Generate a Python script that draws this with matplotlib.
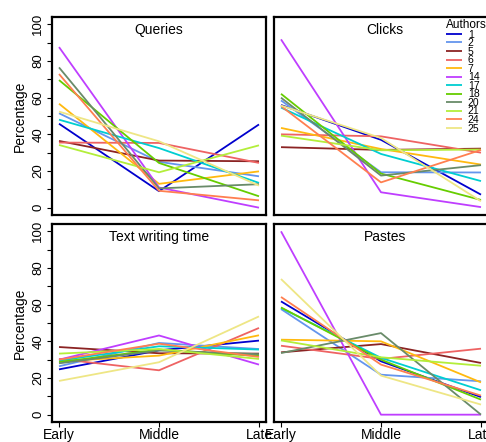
import matplotlib
matplotlib.use("Agg")
import matplotlib.pyplot as plt
from matplotlib.ticker import MultipleLocator

plt.rcParams['font.family'] = ['Liberation Sans', 'DejaVu Sans']

phases = ["Early", "Middle", "Late"]
authors = ["1", "2", "5", "6", "7", "14", "17", "18", "20", "21", "24", "25"]
colors = ["#0000CD", "#6495ED", "#8B2323", "#EE6363", "#FFB90F", "#BF3EFF",
          "#00CED1", "#66CD00", "#698B69", "#B3EE3A", "#FF7F50", "#EEE685"]

queries = [
    [45.8, 9.0, 45.4],   # 1
    [51.5, 25.0, 17.1],  # 2
    [36.4, 25.7, 25.3],  # 5
    [35.5, 35.3, 24.4],  # 6
    [56.7, 13.0, 19.8],  # 7
    [87.6, 11.0, 0.0],   # 14
    [48.0, 32.5, 13.5],  # 17
    [69.6, 24.4, 6.2],   # 18
    [76.5, 10.5, 12.8],  # 20
    [34.2, 19.3, 34.0],  # 21
    [72.9, 9.2, 4.0],    # 24
    [52.4, 36.2, 12.0],  # 25
]
clicks = [
    [56.0, 37.0, 7.1],
    [58.5, 19.3, 19.2],
    [33.0, 31.5, 32.2],
    [40.0, 38.9, 30.0],
    [43.5, 32.0, 23.5],
    [91.8, 8.4, 0.3],
    [54.6, 29.3, 14.5],
    [62.1, 18.6, 4.2],
    [60.0, 17.5, 23.2],
    [39.3, 31.3, 31.7],
    [55.4, 13.8, 31.5],
    [55.7, 38.0, 3.5],
]
text_time = [
    [24.7, 35.1, 40.4],
    [26.4, 39.1, 35.8],
    [36.9, 33.5, 33.3],
    [30.4, 24.2, 47.3],
    [29.1, 32.2, 43.3],
    [30.0, 43.2, 27.3],
    [29.5, 37.3, 35.5],
    [28.7, 35.5, 32.0],
    [28.0, 35.0, 33.0],
    [33.3, 35.8, 30.4],
    [30.0, 38.7, 31.5],
    [18.4, 28.6, 53.6],
]
pastes = [
    [61.8, 29.1, 9.6],
    [57.6, 21.8, 18.2],
    [34.0, 38.5, 28.2],
    [37.6, 30.4, 36.0],
    [40.9, 40.0, 17.6],
    [100.0, 0.0, 0.0],
    [58.2, 31.0, 13.3],
    [58.5, 30.0, 8.2],
    [33.6, 44.5, 0.0],
    [40.5, 31.3, 26.7],
    [64.2, 27.3, 10.4],
    [74.0, 21.3, 5.5],
]

panels = [
    ("Queries", queries),
    ("Clicks", clicks),
    ("Text writing time", text_time),
    ("Pastes", pastes),
]

W, H = 486, 442
fig = plt.figure(figsize=(W / 100, H / 100), dpi=100)

# panel boxes in pixels: (left, top, right, bottom)
boxes = [
    (52, 17, 266, 215),
    (274, 17, 488, 215),
    (52, 224, 266, 422),
    (274, 224, 488, 422),
]

xs = list(range(len(phases)))
for i, ((title, data), (l, t, r, b)) in enumerate(zip(panels, boxes)):
    ax = fig.add_axes([l / W, (H - b) / H, (r - l) / W, (b - t) / H])
    for vals, c, a in zip(data, colors, authors):
        ax.plot(xs, vals, color=c, lw=1.3, label=a, solid_capstyle='butt')
    ax.set_xlim(-0.07, 2.07)
    ax.set_ylim(-4, 104)
    for s in ax.spines.values():
        s.set_linewidth(1.6)
    ax.text(0.5 if i % 2 == 0 else 0.52, 0.97, title, transform=ax.transAxes,
            ha='center', va='top', fontsize=10)
    left_col = (i % 2 == 0)
    bottom_row = (i >= 2)
    if left_col:
        ax.yaxis.set_major_locator(MultipleLocator(20))
        ax.yaxis.set_minor_locator(MultipleLocator(10))
        ax.tick_params(axis='y', which='both', length=3.5, width=0.8,
                       labelsize=9.5, pad=2)
        for lab in ax.get_yticklabels():
            lab.set_rotation(90)
            lab.set_va('center')
        ax.set_ylabel("Percentage", fontsize=10, labelpad=4)
    else:
        ax.set_yticks([])
    if bottom_row:
        ax.set_xticks(xs)
        ax.set_xticklabels(phases, fontsize=10)
        ax.tick_params(axis='x', length=3.5, width=0.8, pad=1)
    else:
        ax.set_xticks([])
    if i == 1:
        leg = ax.legend(loc='upper left', bbox_to_anchor=(446 / W, 1 - 19 / H),
                        bbox_transform=fig.transFigure, frameon=False,
                        fontsize=7.5, title="Authors", title_fontsize=8.5,
                        alignment='left', handlelength=1.5, handletextpad=0.6,
                        labelspacing=-0.14, borderpad=0, borderaxespad=0)

fig.savefig("out.png", dpi=100)
